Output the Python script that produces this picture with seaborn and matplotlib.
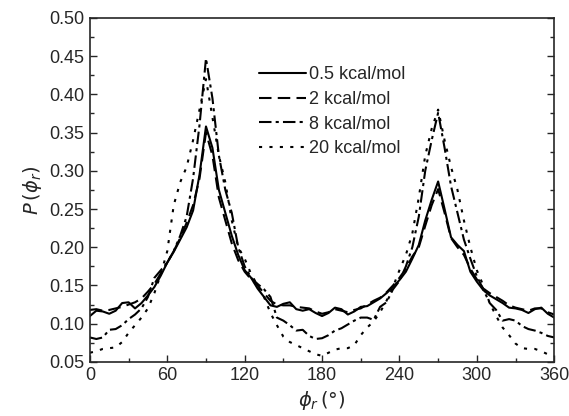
import numpy as np
import pandas as pd
import seaborn as sns
import matplotlib.pyplot as plt

phi = list(range(0, 361, 5))

p_05 = [0.110, 0.117, 0.116, 0.113, 0.117, 0.127, 0.128, 0.120, 0.127, 0.137,
        0.148, 0.163, 0.180, 0.194, 0.210, 0.226, 0.248, 0.295, 0.358, 0.330,
        0.275, 0.245, 0.215, 0.190, 0.170, 0.160, 0.146, 0.135, 0.124, 0.122,
        0.126, 0.128, 0.119, 0.117, 0.119, 0.114, 0.110, 0.114, 0.121, 0.119,
        0.112, 0.116, 0.122, 0.123, 0.128, 0.133, 0.140, 0.148, 0.157, 0.168,
        0.185, 0.203, 0.235, 0.262, 0.286, 0.250, 0.213, 0.203, 0.195, 0.168,
        0.155, 0.144, 0.137, 0.132, 0.127, 0.121, 0.120, 0.118, 0.114, 0.119,
        0.121, 0.113, 0.108]

p_2 = [0.118, 0.119, 0.117, 0.118, 0.120, 0.122, 0.125, 0.128, 0.133, 0.142,
       0.152, 0.166, 0.180, 0.195, 0.212, 0.232, 0.255, 0.290, 0.350, 0.320,
       0.265, 0.235, 0.205, 0.183, 0.168, 0.158, 0.150, 0.140, 0.130, 0.125,
       0.124, 0.124, 0.122, 0.121, 0.120, 0.116, 0.113, 0.115, 0.119, 0.117,
       0.115, 0.118, 0.120, 0.125, 0.130, 0.134, 0.141, 0.150, 0.160, 0.172,
       0.188, 0.200, 0.228, 0.255, 0.276, 0.245, 0.212, 0.200, 0.190, 0.172,
       0.158, 0.146, 0.140, 0.135, 0.130, 0.124, 0.121, 0.119, 0.117, 0.120,
       0.120, 0.115, 0.112]

p_8 = [0.082, 0.080, 0.082, 0.092, 0.093, 0.098, 0.106, 0.112, 0.120, 0.135,
       0.160, 0.170, 0.180, 0.195, 0.215, 0.240, 0.290, 0.360, 0.447, 0.395,
       0.320, 0.275, 0.245, 0.200, 0.175, 0.160, 0.152, 0.145, 0.135, 0.108,
       0.104, 0.098, 0.091, 0.092, 0.084, 0.080, 0.081, 0.085, 0.091, 0.094,
       0.099, 0.104, 0.108, 0.108, 0.105, 0.122, 0.128, 0.145, 0.156, 0.175,
       0.200, 0.240, 0.300, 0.340, 0.376, 0.330, 0.280, 0.245, 0.210, 0.185,
       0.162, 0.145, 0.127, 0.118, 0.104, 0.106, 0.104, 0.097, 0.093, 0.091,
       0.088, 0.084, 0.082]

p_20 = [0.062, 0.064, 0.067, 0.068, 0.069, 0.076, 0.088, 0.098, 0.108, 0.120,
        0.140, 0.165, 0.195, 0.255, 0.285, 0.305, 0.340, 0.380, 0.420, 0.370,
        0.320, 0.285, 0.235, 0.200, 0.185, 0.165, 0.150, 0.135, 0.114, 0.098,
        0.083, 0.076, 0.072, 0.068, 0.064, 0.060, 0.058, 0.062, 0.066, 0.068,
        0.068, 0.072, 0.085, 0.095, 0.103, 0.115, 0.130, 0.148, 0.170, 0.190,
        0.218, 0.265, 0.320, 0.355, 0.380, 0.340, 0.305, 0.275, 0.235, 0.200,
        0.170, 0.150, 0.127, 0.110, 0.095, 0.085, 0.074, 0.068, 0.067, 0.067,
        0.064, 0.060, 0.058]

labels = ["0.5 kcal/mol", "2 kcal/mol", "8 kcal/mol", "20 kcal/mol"]

df = pd.concat([
    pd.DataFrame({"phi": phi, "P": vals, "barrier": lab})
    for vals, lab in zip([p_05, p_2, p_8, p_20], labels)
])

sns.set_style("ticks")
plt.rcParams["font.family"] = ["Liberation Sans", "DejaVu Sans"]
plt.rcParams["mathtext.fontset"] = "dejavusans"

fig = plt.figure(figsize=(5.69, 4.16), dpi=100)
ax = fig.add_axes([0.158, 0.130, 0.816, 0.827])

dash_map = {labels[0]: "", labels[1]: (6, 3), labels[2]: (6, 2, 1.5, 2), labels[3]: (1.5, 3.5)}
sns.lineplot(data=df, x="phi", y="P", style="barrier", dashes=dash_map,
             color="black", linewidth=1.5, ax=ax, legend=True)

ax.set_xlim(0, 360)
ax.set_ylim(0.05, 0.50)
ax.set_xticks(range(0, 361, 60))
ax.set_xticks(range(30, 361, 60), minor=True)
ax.set_yticks(np.arange(0.05, 0.501, 0.05))
ax.set_yticks(np.arange(0.075, 0.5, 0.05), minor=True)
ax.set_yticklabels([f"{v:.2f}" for v in np.arange(0.05, 0.501, 0.05)])
ax.tick_params(which="both", direction="in", labelsize=13, right=True, pad=4)
ax.tick_params(which="major", length=5, width=1)
ax.tick_params(which="minor", length=3, width=1)
for s in ax.spines.values():
    s.set_linewidth(1.2)

ax.set_xlabel(r"$\phi_r\,(°)$", fontsize=14, labelpad=3)
ax.set_ylabel(r"$P\,(\phi_r)$", fontsize=14, labelpad=4)

leg = ax.legend(loc="upper left", bbox_to_anchor=(0.349, 0.88), frameon=False,
                fontsize=13, handlelength=2.6, handletextpad=0.15,
                labelspacing=0.42, borderaxespad=0)

fig.savefig("out.png", dpi=100)
